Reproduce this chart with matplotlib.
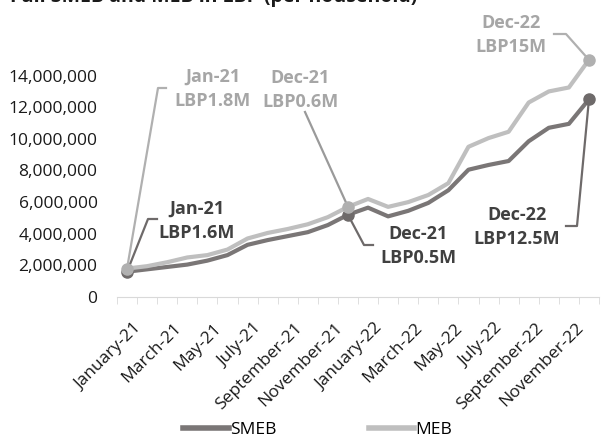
import numpy as np
import matplotlib
matplotlib.use('Agg')
import matplotlib.pyplot as plt
from matplotlib.transforms import ScaledTranslation

months = ['January-21', 'February-21', 'March-21', 'April-21', 'May-21', 'June-21',
          'July-21', 'August-21', 'September-21', 'October-21', 'November-21', 'December-21',
          'January-22', 'February-22', 'March-22', 'April-22', 'May-22', 'June-22',
          'July-22', 'August-22', 'September-22', 'October-22', 'November-22', 'December-22']
smeb = [1.6, 1.75, 1.9, 2.05, 2.3, 2.65, 3.3, 3.6, 3.85, 4.1, 4.55, 5.2,
        5.65, 5.1, 5.45, 5.95, 6.75, 8.05, 8.35, 8.6, 9.85, 10.7, 10.95, 12.5]
meb = [1.8, 1.95, 2.2, 2.5, 2.65, 3.0, 3.7, 4.05, 4.3, 4.6, 5.05, 5.7,
       6.2, 5.7, 6.0, 6.45, 7.2, 9.5, 10.05, 10.45, 12.3, 13.0, 13.25, 15.0]
smeb = [v * 1e6 for v in smeb]
meb = [v * 1e6 for v in meb]
marked = [0, 11, 23]

plt.rcParams['font.family'] = ['Open Sans', 'DejaVu Sans']

W, H = 601, 438
DARK = '#7a7676'
LIGHT = '#bfbfbf'

fig = plt.figure(figsize=(W / 100, H / 100), dpi=100)
ax = fig.add_axes([117 / W, 1 - 297 / H, (599 - 117) / W, (297 - 44) / H])

x = np.arange(len(months))
ax.plot(x, smeb, color=DARK, lw=3, label='SMEB', zorder=3,
        marker='o', markevery=marked, ms=8, mfc='#6e6a6a', mec='#6e6a6a', clip_on=False)
ax.plot(x, meb, color=LIGHT, lw=3, label='MEB', zorder=4,
        marker='o', markevery=marked, ms=8, mfc='#b0b0b0', mec='#b0b0b0', clip_on=False)

ax.set_xlim(-0.5, len(months) - 0.5)
ax.set_ylim(0, 16e6)
ax.set_yticks(np.arange(0, 14e6 + 1, 2e6))
ax.set_yticklabels(['{:,.0f}'.format(v) for v in np.arange(0, 14e6 + 1, 2e6)])
ax.set_xticks(x[::2])
ax.set_xticklabels(months[::2], rotation=45, ha='right', va='center', rotation_mode='anchor')
ax.set_xticks(np.arange(-0.5, len(months), 1), minor=True)
ax.tick_params(axis='x', which='major', length=0, pad=12, labelsize=12.5, colors='#1a1a1a')
ax.tick_params(axis='x', which='minor', length=5, color='#d9d9d9', direction='out')
ax.tick_params(axis='y', length=0, pad=14, labelsize=12.5, colors='#1a1a1a')
shift = ScaledTranslation(12 / 100, -12 / 100, fig.dpi_scale_trans)
for lab in ax.get_xticklabels():
    lab.set_transform(lab.get_transform() + shift)
for s in ['left', 'top', 'right']:
    ax.spines[s].set_visible(False)
ax.spines['bottom'].set_color('#d9d9d9')


def px2data(px, py):
    # top-left pixel coords of the figure -> data coords
    return ax.transData.inverted().transform((px, H - py))


def callout(i, series, bend, text, color, lcolor, tx, ty):
    pts = [(x[i], series[i])] + [tuple(px2data(*p)) for p in bend]
    xs, ys = zip(*pts)
    ax.plot(xs, ys, color=lcolor, lw=1.6, clip_on=False, zorder=2)
    fig.text(tx / W, 1 - ty / H, text, color=color, fontsize=13, fontweight='bold',
             ha='center', va='center', linespacing=1.45)


callout(0, meb, [(158, 88), (166, 88)], 'Jan-21\nLBP1.8M', '#a6a6a6', '#b0b0b0', 213, 89)
callout(0, smeb, [(148, 219), (157, 219)], 'Jan-21\nLBP1.6M', '#404040', '#6e6a6a', 197, 221)
callout(11, meb, [(305, 112)], 'Dec-21\nLBP0.6M', '#a6a6a6', '#9a9a9a', 300, 90)
callout(11, smeb, [(364, 245), (373, 245)], 'Dec-21\nLBP0.5M', '#404040', '#6e6a6a', 418, 246)
callout(23, smeb, [(577, 226), (566, 226)], 'Dec-22\nLBP12.5M', '#404040', '#6e6a6a', 517, 227)
callout(23, meb, [(566, 34), (554, 34)], 'Dec-22\nLBP15M', '#a6a6a6', '#b0b0b0', 511, 35)

fig.text(10 / W, 1 - 2 / H, 'Full SMEB and MEB in LBP (per household)', fontsize=14,
         fontweight='bold', color='#1a1a1a', ha='left', va='baseline')

fig.legend(loc='center', bbox_to_anchor=(318 / W, 1 - 430 / H), ncol=2, frameon=False,
           fontsize=12.5, handlelength=2.6, handletextpad=0.1, columnspacing=5.3)
leg = fig.legends[0]
for h in leg.legend_handles:
    h.set_marker('')
    h.set_linewidth(4)

fig.savefig('out.png', dpi=100)
